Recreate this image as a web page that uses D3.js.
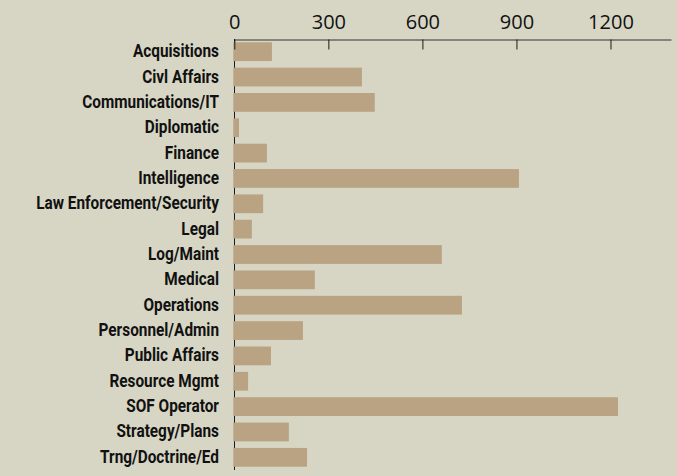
<!DOCTYPE html>
<html>
<head>
<meta charset="utf-8">
<script src="https://cdn.jsdelivr.net/npm/d3@7"></script>
<style>
  html, body { margin: 0; padding: 0; background: #d7d6c4; }
  svg { display: block; }
</style>
</head>
<body>
<svg id="chart" width="677" height="476"></svg>
<script>
const categories = [
  "Acquisitions", "Civl Affairs", "Communications/IT", "Diplomatic", "Finance",
  "Intelligence", "Law Enforcement/Security", "Legal", "Log/Maint", "Medical",
  "Operations", "Personnel/Admin", "Public Affairs", "Resource Mgmt",
  "SOF Operator", "Strategy/Plans", "Trng/Doctrine/Ed"
];
const values = [120, 407, 448, 15, 104, 908, 92, 56, 662, 257, 726, 219, 117, 44, 1224, 174, 232];
const tickValues = [0, 300, 600, 900, 1200];

const svg = d3.select("#chart");
const W = 677, H = 476;
svg.append("rect").attr("width", W).attr("height", H).attr("fill", "#d7d6c4");

const x = d3.scaleLinear().domain([0, 1393]).range([234.3, 671]);
const y = d3.scaleBand().domain(categories).range([39, 470])
  .paddingInner(0.26).paddingOuter(0.13);

// y axis line (under bars)
svg.append("line")
  .attr("x1", 234.5).attr("x2", 234.5)
  .attr("y1", 39).attr("y2", 470)
  .attr("stroke", "#1a1a1a").attr("stroke-width", 1);

// bars
svg.append("g").selectAll("rect")
  .data(categories)
  .join("rect")
  .attr("x", x(0) - 1)
  .attr("y", d => y(d))
  .attr("width", (d, i) => x(values[i]) - x(0) + 1)
  .attr("height", y.bandwidth())
  .attr("fill", "#b9a382");

// top axis
const xAxis = d3.axisTop(x)
  .tickValues(tickValues)
  .tickFormat(d3.format("d"))
  .tickSizeInner(-10)
  .tickSizeOuter(0)
  .tickPadding(11);

const gx = svg.append("g")
  .attr("transform", "translate(0,39.5)")
  .call(xAxis);
gx.select(".domain").attr("stroke", "#333");
gx.selectAll(".tick line").attr("stroke", "#1a1a1a");
gx.selectAll(".tick text")
  .attr("fill", "#111")
  .style("font-family", "'Open Sans', 'Noto Sans', sans-serif")
  .style("font-size", "20px");

// category labels (condensed via horizontal scaling)
const labelG = svg.append("g");
const labels = labelG.selectAll("g")
  .data(categories)
  .join("g");
const texts = labels.append("text")
  .attr("x", 0)
  .attr("y", 0)
  .attr("text-anchor", "end")
  .attr("fill", "#111")
  .style("font-family", "Roboto, 'Liberation Sans', sans-serif")
  .style("font-weight", "bold")
  .style("font-size", "19px")
  .text(d => d);

let refW = 0;
texts.each(function(d) {
  if (d === "Law Enforcement/Security") refW = this.getComputedTextLength();
});
const k = refW > 0 ? 183 / refW : 0.75;
labels.attr("transform", d => `translate(219,${y(d) + y.bandwidth() / 2 + 5.5}) scale(${k},1)`);
</script>
</body>
</html>
